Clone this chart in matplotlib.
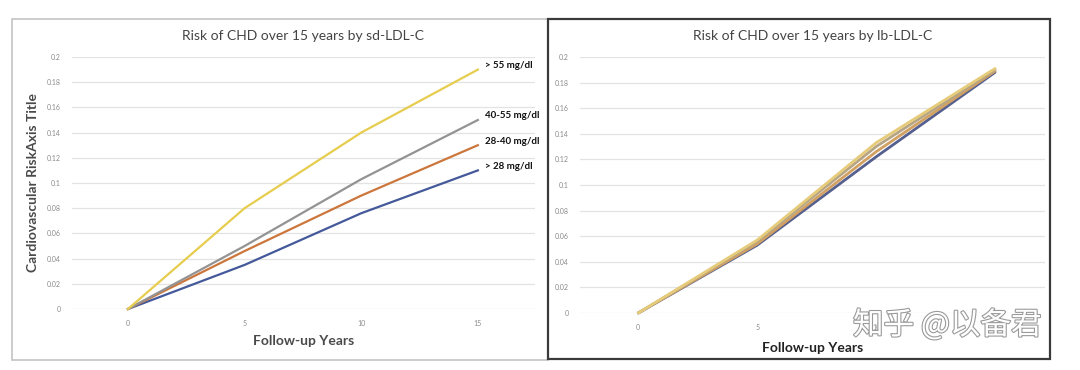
import matplotlib
matplotlib.use("Agg")
import matplotlib.pyplot as plt
import matplotlib.patheffects as pe
from matplotlib.patches import Rectangle

# ---------- data ----------
years = [0, 5, 10, 15]
group_labels = ["> 28 mg/dl", "28-40 mg/dl", "40-55 mg/dl", "> 55 mg/dl"]

# sd-LDL-C risk by group
sd_lt28 = [0, 0.035, 0.076, 0.110]
sd_28_40 = [0, 0.046, 0.090, 0.130]
sd_40_55 = [0, 0.050, 0.103, 0.150]
sd_gt55 = [0, 0.080, 0.140, 0.190]

# lb-LDL-C risk by group
lb_lt28 = [0, 0.053, 0.122, 0.188]
lb_28_40 = [0, 0.054, 0.126, 0.189]
lb_40_55 = [0, 0.056, 0.130, 0.190]
lb_gt55 = [0, 0.057, 0.133, 0.191]

y_ticks = [0, 0.02, 0.04, 0.06, 0.08, 0.1, 0.12, 0.14, 0.16, 0.18, 0.2]
y_tick_labels = ["0", "0.02", "0.04", "0.06", "0.08", "0.1", "0.12", "0.14", "0.16", "0.18", "0.2"]

colors = ["#44599a", "#cc763c", "#939393", "#e6cd4e"]
colors_right = ["#55608f", "#d2a060", "#b5a585", "#e6cb7a"]

plt.rcParams["font.family"] = ["Lato", "DejaVu Sans"]

W, H = 1080, 370
fig = plt.figure(figsize=(W / 100, H / 100), dpi=100)
fig.patch.set_facecolor("white")


def px(x0, y0, x1, y1):
    # pixel box -> figure fraction [left, bottom, width, height]
    return [x0 / W, 1 - y1 / H, (x1 - x0) / W, (y1 - y0) / H]


# panel frames
fig.patches.append(Rectangle((12 / W, 1 - 360 / H), 536 / W, 341 / H, transform=fig.transFigure,
                             fill=False, edgecolor="#c4c4c4", lw=1.2))
fig.patches.append(Rectangle((548 / W, 1 - 359 / H), 502 / W, 340 / H, transform=fig.transFigure,
                             fill=False, edgecolor="#3a3a3a", lw=1.6))


def style_axes(ax, xlim):
    ax.set_xlim(*xlim)
    ax.set_ylim(0, 0.2)
    ax.set_xticks(years)
    ax.set_xticklabels([str(y) for y in years], fontsize=5, color="#8a8a8a")
    ax.set_yticks(y_ticks)
    ax.set_yticklabels(y_tick_labels, fontsize=5, color="#8a8a8a")
    ax.tick_params(length=0, pad=8)
    ax.grid(axis="y", color="#e3e3e3", lw=0.9)
    ax.set_axisbelow(True)
    for s in ax.spines.values():
        s.set_visible(False)


# ---------- left: sd-LDL-C ----------
ax1 = fig.add_axes(px(72, 57, 535, 309))
style_axes(ax1, (-2.4, 17.45))
sd_series = [sd_lt28, sd_28_40, sd_40_55, sd_gt55]
for vals, c, lab in zip(sd_series, colors, group_labels):
    ax1.plot(years, vals, color=c, lw=1.6, clip_on=False)
    ax1.annotate(lab, (years[-1], vals[-1]), xytext=(5, 3), textcoords="offset points",
                 fontsize=7, fontweight="bold", color="#111111", va="center", ha="left")
ax1.set_title("Risk of CHD over 15 years by sd-LDL-C", fontsize=10, color="#444444", pad=12)
ax1.set_xlabel("Follow-up Years", fontsize=10, fontweight="bold", color="#4a4a4a", labelpad=6)
ax1.set_ylabel("Cardiovascular RiskAxis Title", fontsize=10, fontweight="bold", color="#4a4a4a",
               labelpad=6)

# ---------- right: lb-LDL-C ----------
ax2 = fig.add_axes(px(580, 57, 1045, 313))
style_axes(ax2, (-2.45, 17.1))
lb_series = [lb_lt28, lb_28_40, lb_40_55, lb_gt55]
for vals, c in zip(lb_series, colors_right):
    ax2.plot(years, vals, color=c, lw=2.0, clip_on=False, solid_capstyle="round")
ax2.set_title("Risk of CHD over 15 years by lb-LDL-C", fontsize=10, color="#444444", pad=12)
ax2.set_xlabel("Follow-up Years", fontsize=10, fontweight="bold", color="#222222", labelpad=8)

# watermark (covers the 10/15 tick labels, as in the original)
fig.text(853 / W, 1 - 325 / H, "知乎 @以备君", fontsize=22, color="white",
         family=["Noto Sans CJK SC", "DejaVu Sans"], va="center", ha="left", zorder=10,
         path_effects=[pe.withStroke(linewidth=1.6, foreground="#9a9a9a")])

fig.savefig("out.png", dpi=100, facecolor="white")
